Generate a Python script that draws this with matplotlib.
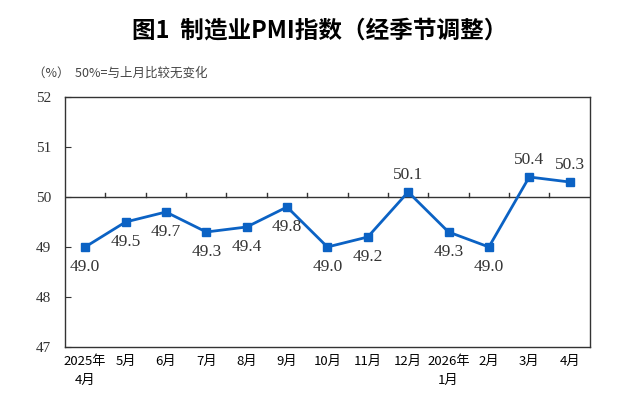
import matplotlib
matplotlib.use("Agg")
import matplotlib.pyplot as plt

months = ["2025年\n4月", "5月", "6月", "7月", "8月", "9月", "10月", "11月", "12月",
          "2026年\n1月", "2月", "3月", "4月"]
pmi = [49.0, 49.5, 49.7, 49.3, 49.4, 49.8, 49.0, 49.2, 50.1, 49.3, 49.0, 50.4, 50.3]
label_pos = ["b", "b", "b", "b", "b", "b", "b", "b", "a", "b", "b", "a", "a"]
yticks = [47, 48, 49, 50, 51, 52]

cjk = ["Noto Sans CJK SC", "DejaVu Sans"]
serif = ["Liberation Serif", "DejaVu Serif"]
color = "#0B62C4"

fig = plt.figure(figsize=(6.39, 4.03), dpi=100)
ax = fig.add_axes([0.1017, 0.139, 0.8213, 0.6203])
x = list(range(len(pmi)))
ax.plot(x, pmi, color=color, lw=2, marker="s", ms=5.5, zorder=3)
for xi, v, p in zip(x, pmi, label_pos):
    if p == "a":
        ax.text(xi, v + 0.17, f"{v:.1f}", ha="center", va="bottom",
                family=serif, fontsize=12.5, color="#333333")
    else:
        ax.text(xi, v - 0.25, f"{v:.1f}", ha="center", va="top",
                family=serif, fontsize=12.5, color="#333333")

ax.set_xlim(-0.5, len(pmi) - 0.5)
ax.set_ylim(47, 52)
ax.set_yticks(yticks)
ax.set_yticklabels([str(t) for t in yticks], family=serif, fontsize=11)
ax.tick_params(axis="y", direction="in", length=4, pad=10, colors="#333333")

ax.set_xticks(x)
ax.set_xticklabels(months, family=cjk, fontsize=9.5, linespacing=1.6)
ax.tick_params(axis="x", length=0, pad=6)

ax.axhline(50, color="#333333", lw=1.0, zorder=2)
for b in range(1, len(pmi)):
    ax.plot([b - 0.5, b - 0.5], [50, 50.08], color="#333333", lw=1.0, zorder=2)

for s in ax.spines.values():
    s.set_color("#333333")
    s.set_linewidth(1.0)

fig.text(0.5, 0.925, "图1  制造业PMI指数（经季节调整）", ha="center", va="center",
         family=cjk, fontsize=17, fontweight="bold")
fig.text(0.052, 0.818, "（%）  50%=与上月比较无变化", ha="left", va="center",
         family=cjk, fontsize=9, color="#444444")

fig.savefig("out.png", dpi=100)
